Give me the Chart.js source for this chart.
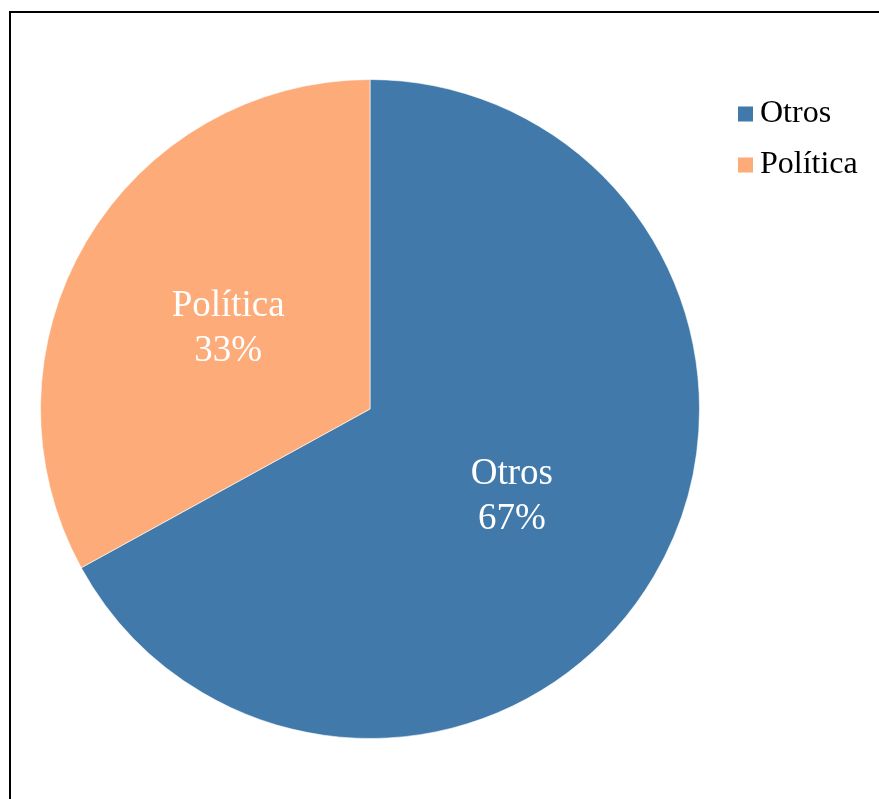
<!DOCTYPE html>
<html>
<head>
<meta charset="utf-8">
<script src="https://cdn.jsdelivr.net/npm/chart.js@4/dist/chart.umd.min.js"></script>
<style>
  html, body { margin: 0; padding: 0; background: #fff; }
  #wrap { position: relative; width: 879px; height: 799px; }
</style>
</head>
<body>
<div id="wrap"><canvas id="c" width="879" height="799"></canvas></div>
<script>
const categories = ['Otros', 'Política'];
const values = [67, 33];
const percentLabels = ['67%', '33%'];
const colors = ['#417AAA', '#FDAB79'];

const serif = '"Liberation Serif", "Times New Roman", serif';

// Frame lines on the top and left edges
const framePlugin = {
  id: 'frame',
  beforeDraw(chart) {
    const ctx = chart.ctx;
    ctx.save();
    ctx.fillStyle = '#000';
    ctx.fillRect(9, 11, 2, 800);
    ctx.fillRect(9, 11, 880, 2);
    ctx.restore();
  }
};

// Category name and percentage inside each slice
const sliceLabelPlugin = {
  id: 'sliceLabels',
  afterDatasetsDraw(chart) {
    const ctx = chart.ctx;
    const meta = chart.getDatasetMeta(0);
    ctx.save();
    ctx.fillStyle = '#fff';
    ctx.font = '37px ' + serif;
    ctx.textAlign = 'center';
    ctx.textBaseline = 'middle';
    meta.data.forEach((arc, i) => {
      const p = arc.getProps(['x', 'y', 'startAngle', 'endAngle', 'outerRadius'], true);
      const mid = (p.startAngle + p.endAngle) / 2;
      const r = p.outerRadius * 0.5;
      const cx = p.x + Math.cos(mid) * r;
      const cy = p.y + Math.sin(mid) * r;
      ctx.fillText(categories[i], cx, cy - 19);
      ctx.fillText(percentLabels[i], cx, cy + 26);
    });
    ctx.restore();
  }
};

// Legend on the right
const legendPlugin = {
  id: 'sideLegend',
  afterDraw(chart) {
    const ctx = chart.ctx;
    ctx.save();
    ctx.font = '32px ' + serif;
    ctx.textBaseline = 'middle';
    categories.forEach((name, i) => {
      const y = 114 + i * 51;
      ctx.fillStyle = colors[i];
      ctx.fillRect(738, y - 7.5, 15, 15);
      ctx.fillStyle = '#000';
      ctx.fillText(name, 760, y);
    });
    ctx.restore();
  }
};

new Chart(document.getElementById('c'), {
  type: 'pie',
  data: {
    labels: categories,
    datasets: [{
      data: values,
      backgroundColor: colors,
      borderColor: 'rgba(255,255,255,0.6)',
      borderWidth: 1
    }]
  },
  options: {
    responsive: false,
    animation: false,
    events: [],
    layout: { padding: { left: 40, top: 79, right: 179, bottom: 60 } },
    plugins: {
      legend: { display: false },
      tooltip: { enabled: false }
    }
  },
  plugins: [framePlugin, sliceLabelPlugin, legendPlugin]
});
</script>
</body>
</html>
